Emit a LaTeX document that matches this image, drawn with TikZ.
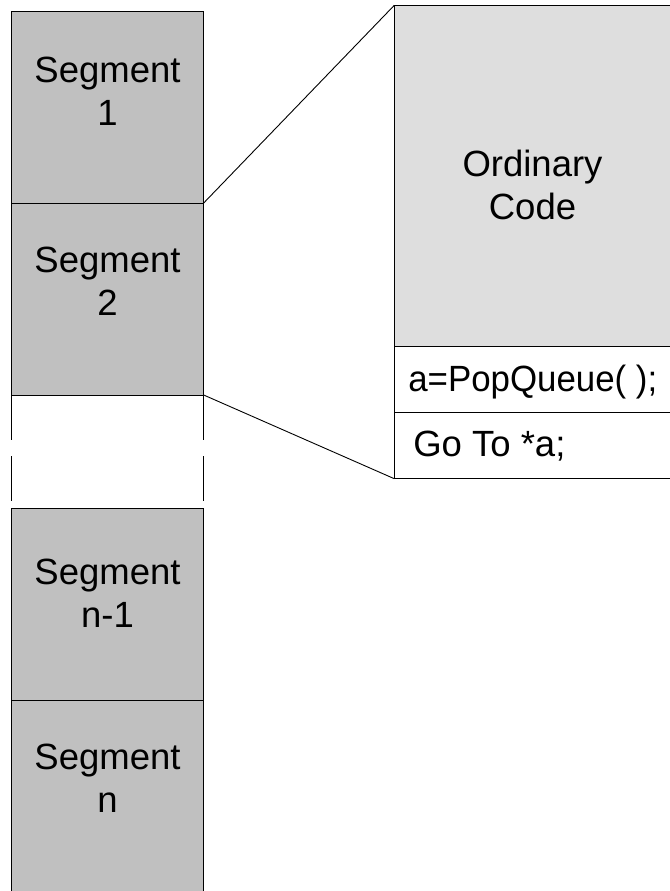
\documentclass[tikz,border=0pt]{standalone}
\usepackage{fontspec}
\setmainfont{Liberation Sans}
\usepackage{graphicx}
\definecolor{segfill}{HTML}{C0C0C0}
\definecolor{codefill}{HTML}{DEDEDE}
\tikzset{
  box/.style={draw=black, line width=0.9bp, inner sep=0pt, outer sep=0pt, rectangle},
  segbox/.style={box, fill=segfill, minimum width=192.4bp, minimum height=192bp},
  bigtxt/.style={inner sep=0pt, outer sep=0pt, align=center,
    font=\fontsize{36.5bp}{42.5bp}\selectfont},
  rowtxt/.style={inner sep=0pt, outer sep=0pt, anchor=base west,
    font=\fontsize{36.5bp}{42.5bp}\selectfont},
  link/.style={draw=black, line width=0.9bp},
}
\begin{document}
\begin{tikzpicture}[x=1bp, y=-1bp]
\useasboundingbox (0,0) rectangle (670,891);
\clip (0,0) rectangle (670,891);

% memory segments on the left
\node[segbox] (s1)  at (107.5,107) {};
\node[segbox] (s2)  at (107.5,299) {};
\node[segbox] (sn1) at (107.5,604) {};
\node[segbox, minimum height=205bp] (sn) at (107.5,802.5) {};

% labels: base anchor sits on the second line's baseline
\node[bigtxt, anchor=base] (s1t)  at (107.5,125)   {Segment\\1};
\node[bigtxt, anchor=base] (s2t)  at (107.5,315)   {Segment\\2};
\node[bigtxt, anchor=base] (sn1t) at (107.5,627)   {Segment\\n-1};
\node[bigtxt, anchor=base] (snt)  at (107.5,812)   {Segment\\n};

% elided segments between 2 and n-1
\coordinate (gapl) at (s2.south west |- 0,502);
\coordinate (gapr) at (s2.south east |- 0,502);
\draw[link, dash pattern=on 45bp off 16bp] (s2.south west) -- (gapl);
\draw[link, dash pattern=on 45bp off 16bp] (s2.south east) -- (gapr);

% expanded view of segment 2
\node[box, fill=codefill, minimum width=285.7bp, minimum height=341.4bp, anchor=north west]
  (code) at (394.3,5.3) {};
\node[box, fill=white, minimum width=285.7bp, minimum height=66bp, anchor=north west]
  (pop) at (code.south west) {};
\node[box, fill=white, minimum width=285.7bp, minimum height=66bp, anchor=north west]
  (goto) at (pop.south west) {};

\node[bigtxt, anchor=base] (codet) at (532.5,219.3) {Ordinary\\Code};
\node[rowtxt] (popt) at (408.3,391.7) {\scalebox{0.955}[1]{a=PopQueue( );}};
\node[rowtxt] (gotot) at (413.3,456.7) {Go To *a;};

% zoom lines
\draw[link] (s2.north east) -- (code.north west);
\draw[link] (s2.south east) -- (goto.south west);
\end{tikzpicture}
\end{document}
